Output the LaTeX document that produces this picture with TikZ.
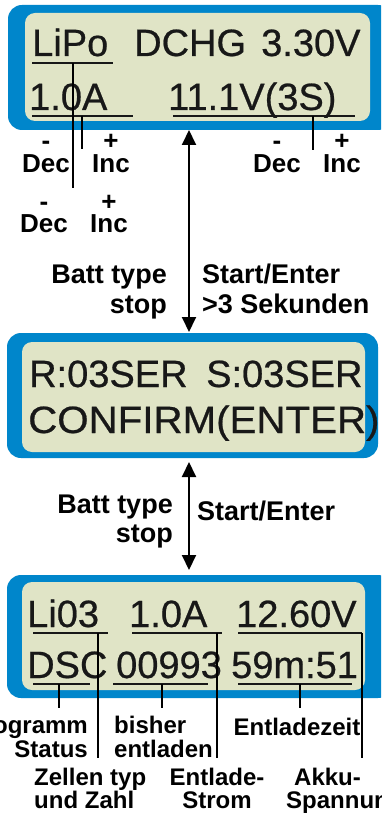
\documentclass[tikz,border=0pt]{standalone}
\usepackage{fontspec}
\setmainfont{Liberation Sans}
\newfontfamily\lcdfont[FakeBold=0.6]{Liberation Sans}
\usetikzlibrary{arrows.meta}
\definecolor{lcdblue}{RGB}{0,134,203}
\definecolor{lcdgreen}{RGB}{224,228,198}
\definecolor{lcdtext}{RGB}{24,24,24}

\begin{document}
\begin{tikzpicture}[x=1pt, y=-1pt,
    frame/.style={fill=lcdblue, draw=none, rounded corners=14pt},
    screen/.style={fill=lcdgreen, draw=none, rounded corners=10pt},
    lcd/.style={inner sep=0pt, anchor=base west, text=lcdtext,
        font=\lcdfont\fontsize{38}{42}\selectfont},
    underl/.style={line width=1.6pt, draw=lcdtext},
    lead/.style={line width=1.3pt, draw=black},
    key/.style={inner sep=0pt, anchor=base, font=\fontsize{26}{28}\bfseries\selectfont},
    hint/.style={inner sep=0pt, font=\fontsize{27}{30}\bfseries\selectfont},
    note/.style={inner sep=0pt, font=\fontsize{24}{26}\bfseries\selectfont},
    flow/.style={line width=2pt, {Triangle[length=15pt,width=14pt]}-{Triangle[length=15pt,width=14pt]}}
    ]
    \clip (0,0) rectangle (381,813);
    \fill[white] (0,0) rectangle (381,813);

    % Anzeige Einstellung
    \path[frame] (8,5) rectangle (392,130);
    \path[screen] (25,13) rectangle (370,121);
    \node (LiPo) [lcd] at (32,56) {LiPo};
    \node (DCHG) [lcd] at (134,56) {DCHG};
    \node (Volt) [lcd] at (261,56) {3.30V};
    \node (Curr) [lcd] at (29,110) {1.0A};
    \node (Cells) [lcd] at (168,110) {11.1V(3S)};
    \draw[underl] (32,63) -- (113,63);
    \draw[underl] (32,116) -- (133,116);
    \draw[underl] (173,116) -- (355,116);
    \coordinate (LeadA) at (73,188);
    \coordinate (LeadB) at (82,149);
    \coordinate (LeadC) at (313,150);
    \draw[lead] (73,63) -- (LeadA);
    \draw[lead] (82,116) -- (LeadB);
    \draw[lead] (313,116) -- (LeadC);

    \node (MinusA) [key] at (46,150) {-};
    \node (DecA) [key] at (46,173) {Dec};
    \node (PlusA) [key] at (111,150) {+};
    \node (IncA) [key] at (111,173) {Inc};
    \node (MinusB) [key] at (44,211) {-};
    \node (DecB) [key] at (44,232) {Dec};
    \node (PlusB) [key] at (109,211) {+};
    \node (IncB) [key] at (109,232) {Inc};
    \node (MinusC) [key] at (277,150) {-};
    \node (DecC) [key] at (277,173) {Dec};
    \node (PlusC) [key] at (342,150) {+};
    \node (IncC) [key] at (342,173) {Inc};

    % Bestaetigung
    \path[frame] (7,333) rectangle (378,458);
    \path[screen] (22,342) rectangle (365,452);
    \node (Rser) [lcd] at (29,387) {R:03SER};
    \node (Sser) [lcd] at (206,387) {S:03SER};
    \node (Confirm) [lcd, transform shape, xscale=1.06] at (28,433) {CONFIRM(ENTER)};

    \coordinate (TopA) at (189,130);
    \coordinate (TopB) at (189,332);
    \draw[flow] (TopA) -- (TopB);
    \node (BattA) [hint, anchor=base east] at (167,283) {Batt type};
    \node (StopA) [hint, anchor=base east] at (167,313) {stop};
    \node (StartA) [hint, anchor=base west] at (202,283) {Start/Enter};
    \node (HoldA) [hint, anchor=base west] at (202,313) {>3 Sekunden};

    \coordinate (MidA) at (189,462);
    \coordinate (MidB) at (189,570);
    \draw[flow] (MidA) -- (MidB);
    \node (BattB) [hint, anchor=base east] at (173,513) {Batt type};
    \node (StopB) [hint, anchor=base east] at (173,542) {stop};
    \node (StartB) [hint, anchor=base west] at (197,520) {Start/Enter};

    % Entladen
    \path[frame] (7,575) rectangle (392,698);
    \path[screen] (22,582) rectangle (365,690);
    \node (Li) [lcd] at (27,627) {Li03};
    \node (Amp) [lcd] at (129,627) {1.0A};
    \node (Pack) [lcd] at (236,627) {12.60V};
    \node (Dsc) [lcd] at (27,678) {DSC};
    \node (Cap) [lcd] at (116,678) {00993};
    \node (Time) [lcd] at (231,678) {59m:51};
    \draw[underl] (33,633) -- (108,633);
    \draw[underl] (132,633) -- (222,633);
    \draw[underl] (238,633) -- (362,633);
    \draw[underl] (33,684) -- (90,684);
    \draw[underl] (113,684) -- (208,684);
    \draw[underl] (238,684) -- (352,684);
    \foreach \x/\y in {59/708, 98/758, 162/708, 217/758, 300/708, 362/758}
        \draw[lead] (\x,{\y==708 ? 684 : 633}) -- (\x,\y);

    \node (Prog) [note, anchor=base east] at (88,733) {Programm};
    \node (Stat) [note, anchor=base east] at (88,757) {Status};
    \node (Bish) [note, anchor=base west] at (114,733) {bisher};
    \node (Entl) [note, anchor=base west] at (114,757) {entladen};
    \node (Zell) [note, anchor=base west] at (34,785) {Zellen typ};
    \node (Zahl) [note, anchor=base west] at (34,808) {und Zahl};
    \node (Elad) [note, anchor=base] at (217,785) {Entlade-};
    \node (Strm) [note, anchor=base] at (217,808) {Strom};
    \node (Zeit) [note, anchor=base] at (297,735) {Entladezeit};
    \node (Akku) [note, anchor=base west] at (294,785) {Akku-};
    \node (Spng) [note, anchor=base west] at (286,808) {Spannung};
\end{tikzpicture}
\end{document}
